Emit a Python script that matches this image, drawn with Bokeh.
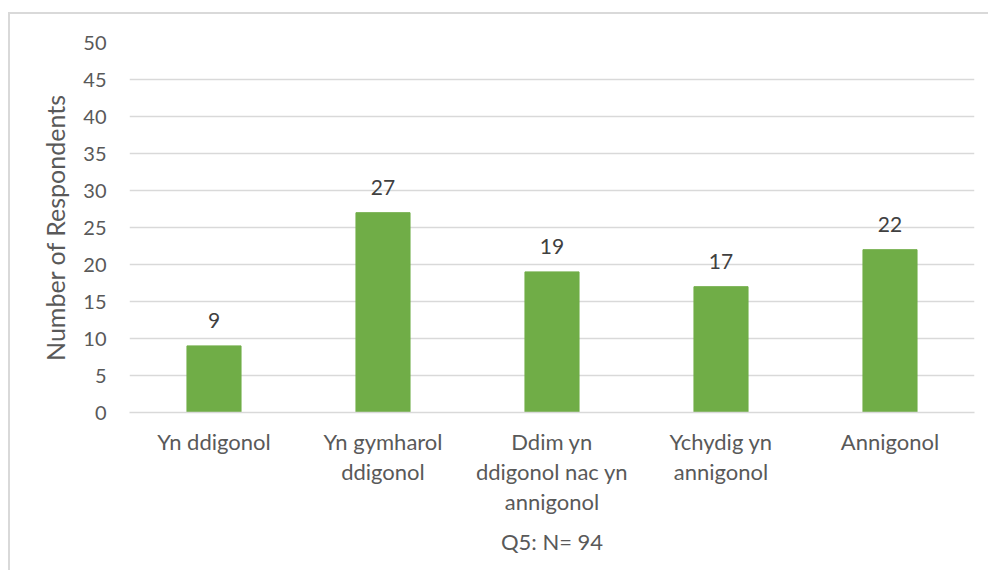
from bokeh.plotting import figure
from bokeh.models import ColumnDataSource, FixedTicker, LinearAxis, Range1d
from bokeh.core.properties import value
from bokeh.embed import file_html
from bokeh.resources import INLINE

categories = ["Yn ddigonol", "Yn gymharol ddigonol", "Ddim yn ddigonol nac yn annigonol",
              "Ychydig yn annigonol", "Annigonol"]
label_line1 = ["Yn ddigonol", "Yn gymharol", "Ddim yn", "Ychydig yn", "Annigonol"]
label_line2 = ["", "ddigonol", "ddigonol nac yn", "annigonol", ""]
label_line3 = ["", "", "annigonol", "", ""]
counts = [9, 27, 19, 17, 22]
y_ticks = [0, 5, 10, 15, 20, 25, 30, 35, 40, 45, 50]
x_title = "Q5: N= 94"
y_title = "Number of Respondents"

FONT = "Lato"
GREY = "#595959"

pos = list(range(len(categories)))
src = ColumnDataSource(dict(x=pos, cat=categories, n=counts, lab=[str(c) for c in counts]))

p = figure(x_range=Range1d(-0.5, len(categories) - 0.5), y_range=(0, 50), width=980, height=558,
           output_backend="svg", toolbar_location=None,
           min_border_left=119, min_border_right=16, min_border_top=28, min_border_bottom=160)
p.styles = {"margin-left": "8px", "margin-top": "12px",
            "border-left": "2px solid #D9D9D9", "border-top": "2px solid #D9D9D9"}
p.outline_line_color = None
p.background_fill_color = "white"
p.border_fill_color = "white"

p.vbar(x="x", top="n", width=0.32, source=src, color="#70AD47")
p.text(x="x", y="n", text="lab", source=src, text_align="center", text_baseline="middle",
       y_offset=-25, text_font=value(FONT), text_font_size="21px", text_color="#404040")

p.ygrid.grid_line_color = "#D9D9D9"
p.ygrid.grid_line_width = 1.5
p.xgrid.grid_line_color = None

yax = p.yaxis[0]
yax.ticker = FixedTicker(ticks=y_ticks)
yax.axis_line_color = None
yax.major_tick_line_color = None
yax.minor_tick_line_color = None
yax.major_tick_out = 0
yax.major_label_standoff = 23
yax.major_label_text_font = FONT
yax.major_label_text_font_size = "20px"
yax.major_label_text_color = GREY
yax.axis_label = y_title
yax.axis_label_text_font = FONT
yax.axis_label_text_font_size = "25px"
yax.axis_label_text_font_style = "normal"
yax.axis_label_text_color = GREY
yax.axis_label_standoff = 10


def style_x(ax, lines, standoff):
    ax.ticker = FixedTicker(ticks=pos)
    ax.major_tick_line_color = None
    ax.minor_tick_line_color = None
    ax.major_tick_out = 0
    ax.major_tick_in = 0
    ax.major_label_standoff = standoff
    ax.major_label_overrides = {i: (t if t else " ") for i, t in zip(pos, lines)}
    ax.major_label_text_font = FONT
    ax.major_label_text_font_size = "22px"
    ax.major_label_text_color = GREY


xax = p.xaxis[0]
xax.axis_line_color = "#D9D9D9"
xax.axis_line_width = 1.5
style_x(xax, label_line1, 15)

ax2 = LinearAxis()
ax2.axis_line_color = None
style_x(ax2, label_line2, 0)
p.add_layout(ax2, "below")

ax3 = LinearAxis()
ax3.axis_line_color = None
style_x(ax3, label_line3, 0)
ax3.axis_label = x_title
ax3.axis_label_text_font = FONT
ax3.axis_label_text_font_size = "22px"
ax3.axis_label_text_font_style = "normal"
ax3.axis_label_text_color = GREY
ax3.axis_label_standoff = 10
p.add_layout(ax3, "below")

open("out.html", "w").write(file_html(p, INLINE))
